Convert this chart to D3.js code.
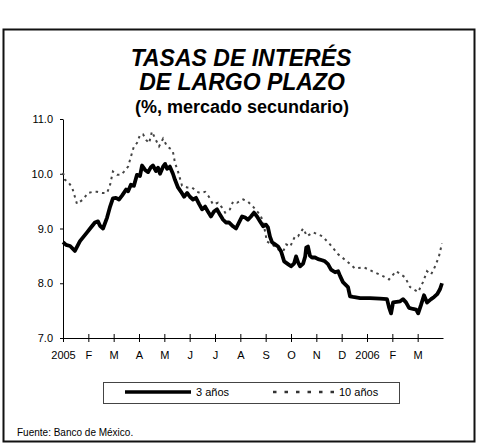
<!DOCTYPE html>
<html>
<head>
<meta charset="utf-8">
<script src="https://cdn.jsdelivr.net/npm/d3@7"></script>
<style>
  body { margin: 0; background: #fff; }
  svg { display: block; font-family: "Liberation Sans", Arial, sans-serif; }
</style>
</head>
<body>
<div id="chart"></div>
<script>
// month labels, one per month start (Jan 2005 .. Mar 2006)
const monthLabels = ["2005", "F", "M", "A", "M", "J", "J", "A", "S", "O", "N", "D", "2006", "F", "M"];
const yTicks = [7, 8, 9, 10, 11];

// 3 años: position in months since 1 Jan 2005, rate in %
const t3 = [0.00, 0.12, 0.28, 0.47, 0.67, 0.95, 1.07, 1.26, 1.38, 1.46, 1.58, 1.74, 1.86, 1.97, 2.09, 2.21,
  2.33, 2.49, 2.57, 2.68, 2.80, 2.92, 3.04, 3.12, 3.24, 3.36, 3.47, 3.55, 3.67, 3.75, 3.83, 3.95, 4.03, 4.11,
  4.22, 4.34, 4.42, 4.54, 4.66, 4.78, 4.90, 5.01, 5.13, 5.25, 5.37, 5.49, 5.61, 5.72, 5.84, 5.96, 6.08, 6.20,
  6.32, 6.43, 6.55, 6.71, 6.83, 6.95, 7.07, 7.19, 7.30, 7.42, 7.54, 7.66, 7.78, 7.90, 8.01, 8.09, 8.17, 8.25,
  8.37, 8.49, 8.61, 8.73, 8.88, 9.00, 9.12, 9.20, 9.28, 9.36, 9.48, 9.56, 9.60, 9.67, 9.75, 9.83, 9.95, 10.07,
  10.23, 10.34, 10.46, 10.58, 10.74, 10.86, 10.94, 11.05, 11.25, 11.33, 11.45, 11.73, 12.12, 12.51, 12.79,
  12.87, 12.95, 13.03, 13.31, 13.42, 13.54, 13.66, 13.82, 13.94, 14.02, 14.13, 14.25, 14.37, 14.53, 14.65,
  14.77, 14.88, 14.96];
const v3 = [8.75, 8.70, 8.68, 8.59, 8.77, 8.93, 9.00, 9.11, 9.13, 9.05, 9.00, 9.20, 9.40, 9.55, 9.56, 9.53,
  9.60, 9.71, 9.68, 9.80, 9.78, 9.98, 9.96, 10.15, 10.07, 10.03, 10.12, 10.15, 10.05, 10.11, 10.00, 10.13, 10.18, 10.09,
  10.13, 10.00, 9.89, 9.75, 9.67, 9.58, 9.65, 9.58, 9.53, 9.56, 9.45, 9.35, 9.40, 9.31, 9.22, 9.31, 9.35, 9.25,
  9.16, 9.11, 9.11, 9.04, 9.00, 9.11, 9.22, 9.20, 9.16, 9.22, 9.29, 9.22, 9.13, 9.04, 9.07, 9.02, 8.85, 8.75,
  8.71, 8.67, 8.58, 8.40, 8.35, 8.31, 8.36, 8.49, 8.38, 8.31, 8.36, 8.49, 8.65, 8.67, 8.50, 8.47, 8.47, 8.44,
  8.42, 8.40, 8.35, 8.25, 8.20, 8.22, 8.13, 8.02, 7.93, 7.76, 7.75, 7.73, 7.73, 7.72, 7.71,
  7.56, 7.45, 7.65, 7.67, 7.71, 7.65, 7.55, 7.53, 7.52, 7.45, 7.60, 7.78, 7.65, 7.71, 7.75,
  7.80, 7.89, 8.00];

// 10 años
const t10 = [0.00, 0.08, 0.20, 0.36, 0.55, 0.79, 0.99, 1.18, 1.34, 1.54, 1.74, 1.86, 1.97, 2.13, 2.29, 2.41,
  2.57, 2.68, 2.80, 2.92, 3.04, 3.16, 3.28, 3.40, 3.51, 3.63, 3.79, 3.95, 4.11, 4.26, 4.34, 4.42, 4.54, 4.70,
  4.90, 5.09, 5.29, 5.41, 5.61, 5.76, 5.92, 6.12, 6.28, 6.40, 6.59, 6.71, 6.87, 7.11, 7.30, 7.50, 7.78, 7.90,
  8.05, 8.25, 8.49, 8.69, 8.81, 8.97, 9.16, 9.28, 9.48, 9.63, 9.87, 10.23, 10.54, 10.86, 11.21, 11.53, 11.88,
  12.20, 12.63, 12.87, 13.15, 13.50, 13.70, 14.02, 14.21, 14.37, 14.53, 14.69, 14.84, 14.96];
const v10 = [10.02, 9.89, 9.85, 9.75, 9.45, 9.53, 9.65, 9.67, 9.67, 9.65, 9.65, 9.80, 10.04, 9.98, 9.98, 10.04,
  10.13, 10.31, 10.50, 10.56, 10.71, 10.72, 10.62, 10.56, 10.77, 10.65, 10.50, 10.64, 10.50, 10.45, 10.40, 10.20, 10.04, 9.78,
  9.75, 9.75, 9.67, 9.65, 9.67, 9.58, 9.44, 9.47, 9.38, 9.29, 9.35, 9.49, 9.47, 9.53, 9.49, 9.40, 9.25, 9.13,
  8.76, 8.71, 8.62, 8.58, 8.71, 8.67, 8.86, 8.86, 9.00, 8.86, 8.93, 8.86, 8.71, 8.53, 8.40, 8.27, 8.29,
  8.22, 8.13, 8.07, 8.22, 8.11, 7.93, 7.84, 8.02, 8.22, 8.16, 8.31, 8.49, 8.73];

const seriesNames = ["3 años", "10 años"];

const width = 482, height = 445;
const margin = { top: 119, right: 39, bottom: 107, left: 63 };

const svg = d3.select("#chart").append("svg")
  .attr("width", width)
  .attr("height", height);

// outer frame
svg.append("rect")
  .attr("x", 3.5).attr("y", 29.5)
  .attr("width", 471).attr("height", 412)
  .attr("fill", "none")
  .attr("stroke", "#111")
  .attr("stroke-width", 2);

// titles
const titles = svg.append("g").attr("text-anchor", "middle").attr("fill", "#000");
titles.append("text").attr("x", 241).attr("y", 66)
  .attr("font-size", 23).attr("font-weight", "bold").attr("font-style", "italic")
  .text("TASAS DE INTERÉS");
titles.append("text").attr("x", 242).attr("y", 90)
  .attr("font-size", 23).attr("font-weight", "bold").attr("font-style", "italic")
  .text("DE LARGO PLAZO");
titles.append("text").attr("x", 242).attr("y", 113)
  .attr("font-size", 18).attr("font-weight", "bold")
  .text("(%, mercado secundario)");

const x = d3.scaleLinear()
  .domain([0, 15])
  .range([margin.left, width - margin.right]);

const y = d3.scaleLinear()
  .domain([7, 11])
  .range([height - margin.bottom, margin.top]);

// y axis
const yAxis = svg.append("g")
  .attr("transform", `translate(${margin.left},0)`)
  .call(d3.axisLeft(y).tickValues(yTicks).tickFormat(d3.format(".1f")).tickSize(3).tickPadding(7).tickSizeOuter(0));
yAxis.selectAll("text").attr("font-size", 11).attr("font-family", "Liberation Sans, Arial, sans-serif").attr("fill", "#000");
yAxis.selectAll("line, path").attr("stroke", "#000");

// x axis with crossing ticks
const xAxis = svg.append("g")
  .attr("transform", `translate(0,${y(7)})`)
  .call(d3.axisBottom(x)
    .tickValues(d3.range(monthLabels.length))
    .tickFormat((d, i) => monthLabels[i])
    .tickSize(4).tickSizeOuter(0));
xAxis.select(".domain").attr("stroke", "#000");
xAxis.selectAll(".tick line").attr("y1", -4).attr("y2", 4).attr("stroke", "#000");
xAxis.selectAll(".tick text")
  .attr("y", 21).attr("dy", 0)
  .attr("font-size", 11).attr("font-family", "Liberation Sans, Arial, sans-serif").attr("fill", "#000");

const line = d3.line()
  .x(d => x(d[0]))
  .y(d => y(d[1]));

const data10 = t10.map((t, i) => [t, v10[i]]);
const data3 = t3.map((t, i) => [t, v3[i]]);

svg.append("path")
  .datum(data10)
  .attr("fill", "none")
  .attr("stroke", "#444")
  .attr("stroke-width", 2)
  .attr("stroke-dasharray", "2.5,4")
  .attr("d", line);

svg.append("path")
  .datum(data3)
  .attr("fill", "none")
  .attr("stroke", "#000")
  .attr("stroke-width", 3.8)
  .attr("stroke-linejoin", "round")
  .attr("d", line);

// legend
const legend = svg.append("g");
legend.append("rect")
  .attr("x", 103.5).attr("y", 382.5)
  .attr("width", 296).attr("height", 21)
  .attr("fill", "none").attr("stroke", "#444").attr("stroke-width", 1);

const legendItems = [
  { name: seriesNames[0], x1: 125, x2: 191, width: 3.5, dash: null, color: "#000" },
  { name: seriesNames[1], x1: 273, x2: 334, width: 2.5, dash: "3.5,8", color: "#333" }
];
legendItems.forEach(it => {
  legend.append("line")
    .attr("x1", it.x1).attr("x2", it.x2)
    .attr("y1", 392).attr("y2", 392)
    .attr("stroke", it.color)
    .attr("stroke-width", it.width)
    .attr("stroke-dasharray", it.dash);
  legend.append("text")
    .attr("x", it.x2 + 5).attr("y", 396)
    .attr("font-size", 11)
    .text(it.name);
});

svg.append("text")
  .attr("x", 17).attr("y", 436)
  .attr("font-size", 10)
  .text("Fuente: Banco de México.");
</script>
</body>
</html>
